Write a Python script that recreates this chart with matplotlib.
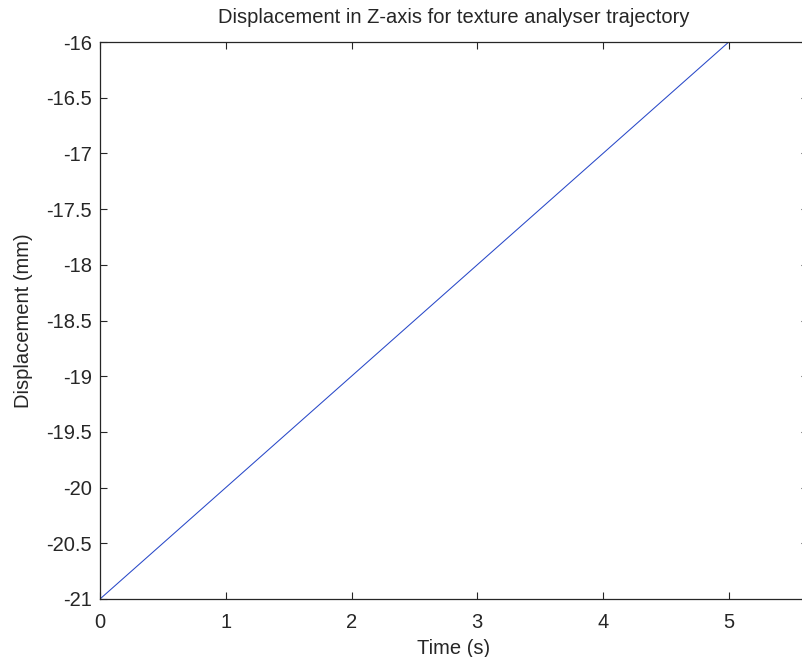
import matplotlib
matplotlib.use('Agg')
import matplotlib.pyplot as plt

plt.rcParams['font.family'] = ['Liberation Sans', 'DejaVu Sans']

# displacement of the probe read at each second
time_s = [0, 1, 2, 3, 4, 5]
disp_mm = [-21.0, -20.0, -19.0, -18.0, -17.0, -16.0]

xticks = [0, 1, 2, 3, 4, 5]
yticks = [-21, -20.5, -20, -19.5, -19, -18.5, -18, -17.5, -17, -16.5, -16]

fig = plt.figure(figsize=(8.03, 6.57), dpi=100)
ax = fig.add_axes([100 / 803, 58 / 657, 708 / 803, 557 / 657])

ax.plot(time_s, disp_mm, color='#2848c8', linewidth=0.75)

ax.set_xlim(0, 5.63)
ax.set_ylim(-21, -16)
ax.set_xticks(xticks)
ax.set_yticks(yticks)
ax.set_yticklabels([('%g' % v) for v in yticks])

ax.tick_params(direction='in', length=5, width=0.8, top=True, right=True,
               labelsize=14.5, colors='#262626', pad=6)
ax.tick_params(axis='x', pad=10)
for s in ax.spines.values():
    s.set_linewidth(0.9)
    s.set_color('#262626')
ax.spines['right'].set_visible(False)

ax.set_title('Displacement in Z-axis for texture analyser trajectory',
             fontsize=14.5, color='#262626', pad=14)
ax.set_xlabel('Time (s)', fontsize=14.5, color='#262626', labelpad=5)
ax.set_ylabel('Displacement (mm)', fontsize=14.5, color='#262626', labelpad=9)

fig.savefig('out.png', dpi=100)
